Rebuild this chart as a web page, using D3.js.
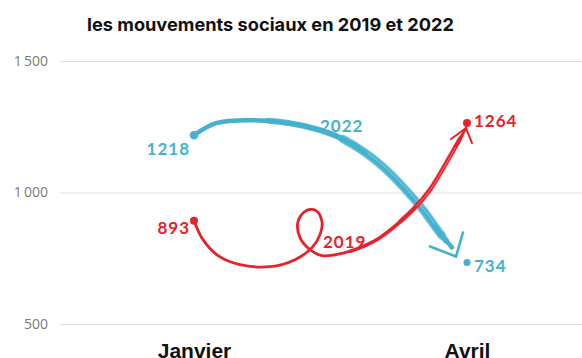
<!DOCTYPE html>
<html><head><meta charset="utf-8">
<script src="https://cdn.jsdelivr.net/npm/d3@7"></script>
<style>
  body { margin: 0; background: #fff; }
  svg { display: block; }
</style>
</head><body>
<svg id="chart" width="582" height="358"></svg>
<script>
// Données
const months = ["Janvier", "Avril"];
const series = ["2019", "2022"];
const values2019 = [893, 1264];
const values2022 = [1218, 734];
const yTicks = [500, 1000, 1500];
const title = "les mouvements sociaux en 2019 et 2022";

const W = 582, H = 358;
const red = "#e8212b", blue = "#44b2cd";

const svg = d3.select("#chart");

const x = d3.scalePoint().domain(months).range([194, 467]);
const y = d3.scaleLinear().domain([500, 1500]).range([324, 61]);

const fr = d3.formatLocale({ decimal: ",", thousands: "\u2009", grouping: [3], currency: ["", " €"] });
const fmt = fr.format(",d");

// Titre
svg.append("text")
  .attr("x", 87).attr("y", 31)
  .attr("textLength", 367).attr("lengthAdjust", "spacingAndGlyphs")
  .style("font-family", "Inter, 'Noto Sans', sans-serif")
  .style("font-weight", 700).style("font-size", "18px")
  .style("fill", "#111")
  .text(title);

// Axe vertical avec grille
const yAxis = svg.append("g")
  .attr("transform", "translate(60,0)")
  .call(d3.axisLeft(y).tickValues(yTicks).tickSize(-(W - 60)).tickPadding(12).tickFormat(fmt));
yAxis.select(".domain").remove();
yAxis.selectAll(".tick line").attr("stroke", "#e0e0e0").attr("stroke-width", 1.2);
yAxis.selectAll(".tick text")
  .style("font-family", "'Open Sans', sans-serif")
  .style("font-size", "14px").style("font-weight", 400)
  .style("fill", "#7a7a7a");

// Axe horizontal (mois)
const xAxis = svg.append("g")
  .attr("transform", "translate(0,358)")
  .call(d3.axisBottom(x).tickSize(0).tickPadding(0));
xAxis.select(".domain").remove();
xAxis.selectAll(".tick text")
  .attr("y", 0).attr("dy", 0)
  .style("font-family", "'Liberation Sans', Arial, sans-serif")
  .style("font-weight", 700).style("font-size", "21px")
  .style("fill", "#111");

// Tracé façon « dessin à main levée » entre deux points
const sketch = d3.line().curve(d3.curveCatmullRom.alpha(0.5));

// layers : [largeur, début (fraction), fin (fraction), opacité]
function drawStroke(g, pts, color, base, layers) {
  const d = sketch(pts);
  const p = g.append("path").attr("d", d).attr("fill", "none")
    .attr("stroke", color).attr("stroke-width", base)
    .attr("stroke-linecap", "round").attr("stroke-linejoin", "round");
  const L = p.node().getTotalLength();
  layers.forEach(([w, f0, f1, op]) => {
    g.append("path").attr("d", d).attr("fill", "none")
      .attr("stroke", color).attr("stroke-width", w)
      .attr("stroke-opacity", op)
      .attr("stroke-linecap", "round")
      .attr("stroke-dasharray", `0 ${L * f0} ${L * (f1 - f0)} ${L}`);
  });
  // stries claires du pinceau
  const [, f0, f1] = layers[layers.length - 1];
  g.append("path").attr("d", d).attr("fill", "none")
    .attr("stroke", "#fff").attr("stroke-width", 0.8)
    .attr("stroke-opacity", 0.45)
    .attr("transform", "translate(0.8,-0.8)")
    .attr("stroke-dasharray", `0 ${L * (f0 + (f1 - f0) * 0.2)} ${L * (f1 - f0) * 0.7} ${L}`);
}

function arrowHead(g, tip, arms, color, w) {
  arms.forEach(a => {
    g.append("line")
      .attr("x1", tip[0] + a[0]).attr("y1", tip[1] + a[1])
      .attr("x2", tip[0]).attr("y2", tip[1])
      .attr("stroke", color).attr("stroke-width", w)
      .attr("stroke-linecap", "round");
  });
}

const labelStyle = sel => sel
  .style("font-family", "Lato, 'Open Sans', sans-serif")
  .style("font-weight", 700).style("font-size", "17px")
  .style("letter-spacing", "1px");

// 2022 : bleu
{
  const g = svg.append("g");
  const s = [x(months[0]), y(values2022[0])];
  const e = [x(months[1]), y(values2022[1])];
  const tip = [e[0] - 11, e[1] - 6];
  const shape = [[0, 0], [22, -12], [56, -15], [96, -12], [126, -5], [151, 5],
                 [186, 29], [226, 71], [246, 98]];
  const pts = shape.map(o => [s[0] + o[0], s[1] + o[1]]).concat([[e[0] - 15, e[1] - 15]]);
  drawStroke(g, pts, blue, 4.5, [[6, 0.25, 0.97, 0.85], [8.5, 0.5, 0.95, 0.75]]);
  arrowHead(g, tip, [[-26, -10], [7, -24]], blue, 2.6);
  g.append("circle").attr("cx", s[0]).attr("cy", s[1]).attr("r", 4).attr("fill", blue);
  g.append("circle").attr("cx", e[0]).attr("cy", e[1]).attr("r", 3.5).attr("fill", blue);
  g.append("text").attr("x", s[0] - 4).attr("y", s[1] + 20).attr("text-anchor", "end")
    .call(labelStyle).style("fill", blue).text(values2022[0]);
  g.append("text").attr("x", e[0] + 7).attr("y", e[1] + 10)
    .call(labelStyle).style("fill", blue).text(values2022[1]);
  g.append("text").attr("x", 320).attr("y", 132)
    .call(labelStyle).style("fill", blue).text(series[1]);
}

// 2019 : rouge, avec une boucle
{
  const g = svg.append("g");
  const s = [x(months[0]), y(values2019[0])];
  const e = [x(months[1]), y(values2019[1])];
  const tip = [e[0] - 1, e[1] + 5];
  const shape = [[0, 0], [9, 19], [24, 35], [46, 44], [76, 46], [101, 39], [118, 27],
                 [126, 14], [128, 1], [122, -10], [112, -10], [104, 1], [106, 17],
                 [116, 29], [128, 35], [151, 32], [171, 25], [186, 17], [219, -11],
                 [236, -31], [253, -59]];
  const pts = shape.map(o => [s[0] + o[0], s[1] + o[1]]).concat([tip]);
  drawStroke(g, pts, red, 2.8, [[3.6, 0.62, 0.98, 0.9], [4.6, 0.75, 0.97, 0.8]]);
  arrowHead(g, tip, [[-15, 11], [6, 15]], red, 2);
  g.append("circle").attr("cx", s[0]).attr("cy", s[1]).attr("r", 4).attr("fill", red);
  g.append("circle").attr("cx", e[0]).attr("cy", e[1]).attr("r", 4).attr("fill", red);
  g.append("text").attr("x", s[0] - 4).attr("y", s[1] + 13).attr("text-anchor", "end")
    .call(labelStyle).style("fill", red).text(values2019[0]);
  g.append("text").attr("x", e[0] + 7).attr("y", e[1] + 4)
    .call(labelStyle).style("fill", red).text(values2019[1]);
  g.append("text").attr("x", 323).attr("y", 248)
    .call(labelStyle).style("fill", red).text(series[0]);
}
</script>
</body></html>
